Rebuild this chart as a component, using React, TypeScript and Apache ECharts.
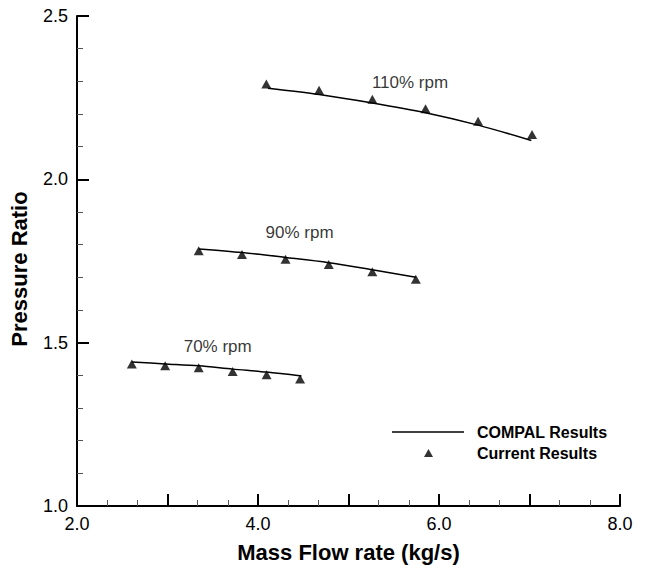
import React, { useEffect, useRef } from "react";
import * as echarts from "echarts";

// ---- data ----
const compal70X = [2.606, 2.974, 3.345, 3.72, 4.095, 4.48];
const compal70Y = [1.441, 1.435, 1.429, 1.419, 1.41, 1.398];
const current70X = [2.606, 2.974, 3.345, 3.72, 4.095, 4.465];
const current70Y = [1.435, 1.429, 1.423, 1.412, 1.402, 1.389];

const compal90X = [3.345, 3.823, 4.304, 4.782, 5.263, 5.744];
const compal90Y = [1.787, 1.776, 1.761, 1.745, 1.723, 1.7];
const current90X = [3.345, 3.823, 4.304, 4.782, 5.263, 5.744];
const current90Y = [1.781, 1.77, 1.755, 1.739, 1.717, 1.694];

const compal110X = [4.11, 4.675, 5.264, 5.851, 6.432, 7.02];
const compal110Y = [2.279, 2.26, 2.234, 2.204, 2.166, 2.119];
const current110X = [4.092, 4.675, 5.264, 5.851, 6.432, 7.028];
const current110Y = [2.292, 2.273, 2.245, 2.216, 2.178, 2.137];

const speedLabels = ["70% rpm", "90% rpm", "110% rpm"];
const speedLabelX = [3.555, 4.46, 5.68];
const speedLabelY = [1.488, 1.836, 2.295];

const xTickLabels = ["2.0", "4.0", "6.0", "8.0"];

const zip = (xs: number[], ys: number[]) => xs.map((x, i) => [x, ys[i]]);

const FONT = "'Liberation Sans', Arial, Helvetica, sans-serif";

export default function App() {
  const ref = useRef<HTMLDivElement>(null);

  useEffect(() => {
    if (!ref.current) return;
    const chart = echarts.init(ref.current, undefined, { renderer: "svg" });

    const lineSeries = (xs: number[], ys: number[]) => ({
      name: "COMPAL Results",
      type: "line",
      data: zip(xs, ys),
      showSymbol: false,
      symbol: "none",
      smooth: 0.3,
      lineStyle: { color: "#000", width: 1.5 },
      itemStyle: { color: "#000" },
      z: 2,
    });
    const scatterSeries = (xs: number[], ys: number[]) => ({
      name: "Current Results",
      type: "scatter",
      data: zip(xs, ys),
      symbol: "triangle",
      symbolSize: [10, 9],
      itemStyle: { color: "#000" },
      z: 3,
    });

    const axisCommon = {
      axisLine: { show: true, lineStyle: { color: "#000", width: 2 } },
      axisTick: { show: true, inside: true, length: 12, lineStyle: { color: "#000", width: 2 } },
      minorTick: { show: true, length: 6, lineStyle: { color: "#555", width: 1 } },
      splitLine: { show: false },
      minorSplitLine: { show: false },
    };

    chart.setOption({
      animation: false,
      backgroundColor: "#fff",
      textStyle: { fontFamily: FONT },
      grid: { left: 76, top: 16, width: 544, height: 490, containLabel: false },
      xAxis: {
        type: "value",
        min: 2,
        max: 8,
        interval: 1,
        ...axisCommon,
        minorTick: { ...axisCommon.minorTick, splitNumber: 3 },
        axisLabel: {
          color: "#000",
          fontSize: 18,
          fontFamily: FONT,
          margin: 9,
          formatter: (v: number) => {
            const s = v.toFixed(1);
            return xTickLabels.includes(s) ? s : "";
          },
        },
        name: "Mass Flow rate (kg/s)",
        nameLocation: "middle",
        nameGap: 35,
        nameTextStyle: { color: "#000", fontSize: 22, fontWeight: "bold", fontFamily: FONT },
      },
      yAxis: {
        type: "value",
        min: 1,
        max: 2.5,
        interval: 0.5,
        ...axisCommon,
        minorTick: { ...axisCommon.minorTick, splitNumber: 5 },
        axisLabel: {
          color: "#000",
          fontSize: 18,
          fontFamily: FONT,
          margin: 9,
          formatter: (v: number) => v.toFixed(1),
        },
        name: "Pressure Ratio",
        nameLocation: "middle",
        nameGap: 47,
        nameTextStyle: {
          color: "#000",
          fontSize: 22,
          fontWeight: "bold",
          fontFamily: FONT,
          padding: [0, 16, 0, 0],
        },
      },
      legend: [
        {
          data: [{ name: "COMPAL Results", icon: "rect" }],
          left: 387,
          top: 419,
          itemWidth: 72,
          itemHeight: 1.5,
          selectedMode: false,
          textStyle: { color: "#000", fontSize: 16, fontWeight: "bold", fontFamily: FONT, padding: [0, 0, 0, 8] },
        },
        {
          data: [{ name: "Current Results", icon: "triangle" }],
          left: 419,
          top: 440,
          itemWidth: 9,
          itemHeight: 8,
          selectedMode: false,
          textStyle: { color: "#000", fontSize: 16, fontWeight: "bold", fontFamily: FONT, padding: [0, 0, 0, 39] },
        },
      ],
      series: [
        lineSeries(compal70X, compal70Y),
        lineSeries(compal90X, compal90Y),
        lineSeries(compal110X, compal110Y),
        scatterSeries(current70X, current70Y),
        scatterSeries(current90X, current90Y),
        scatterSeries(current110X, current110Y),
        {
          type: "scatter",
          name: "labels",
          data: speedLabels.map((t, i) => ({ value: [speedLabelX[i], speedLabelY[i]], name: t })),
          symbolSize: 0,
          silent: true,
          label: {
            show: true,
            position: "inside",
            formatter: (p: any) => p.name,
            color: "#000",
            fontSize: 17,
            fontFamily: FONT,
          },
          z: 4,
        },
      ],
    });

    return () => chart.dispose();
  }, []);

  return (
    <div
      ref={ref}
      style={{ position: "absolute", left: 0, top: 0, width: 650, height: 574 }}
    />
  );
}
